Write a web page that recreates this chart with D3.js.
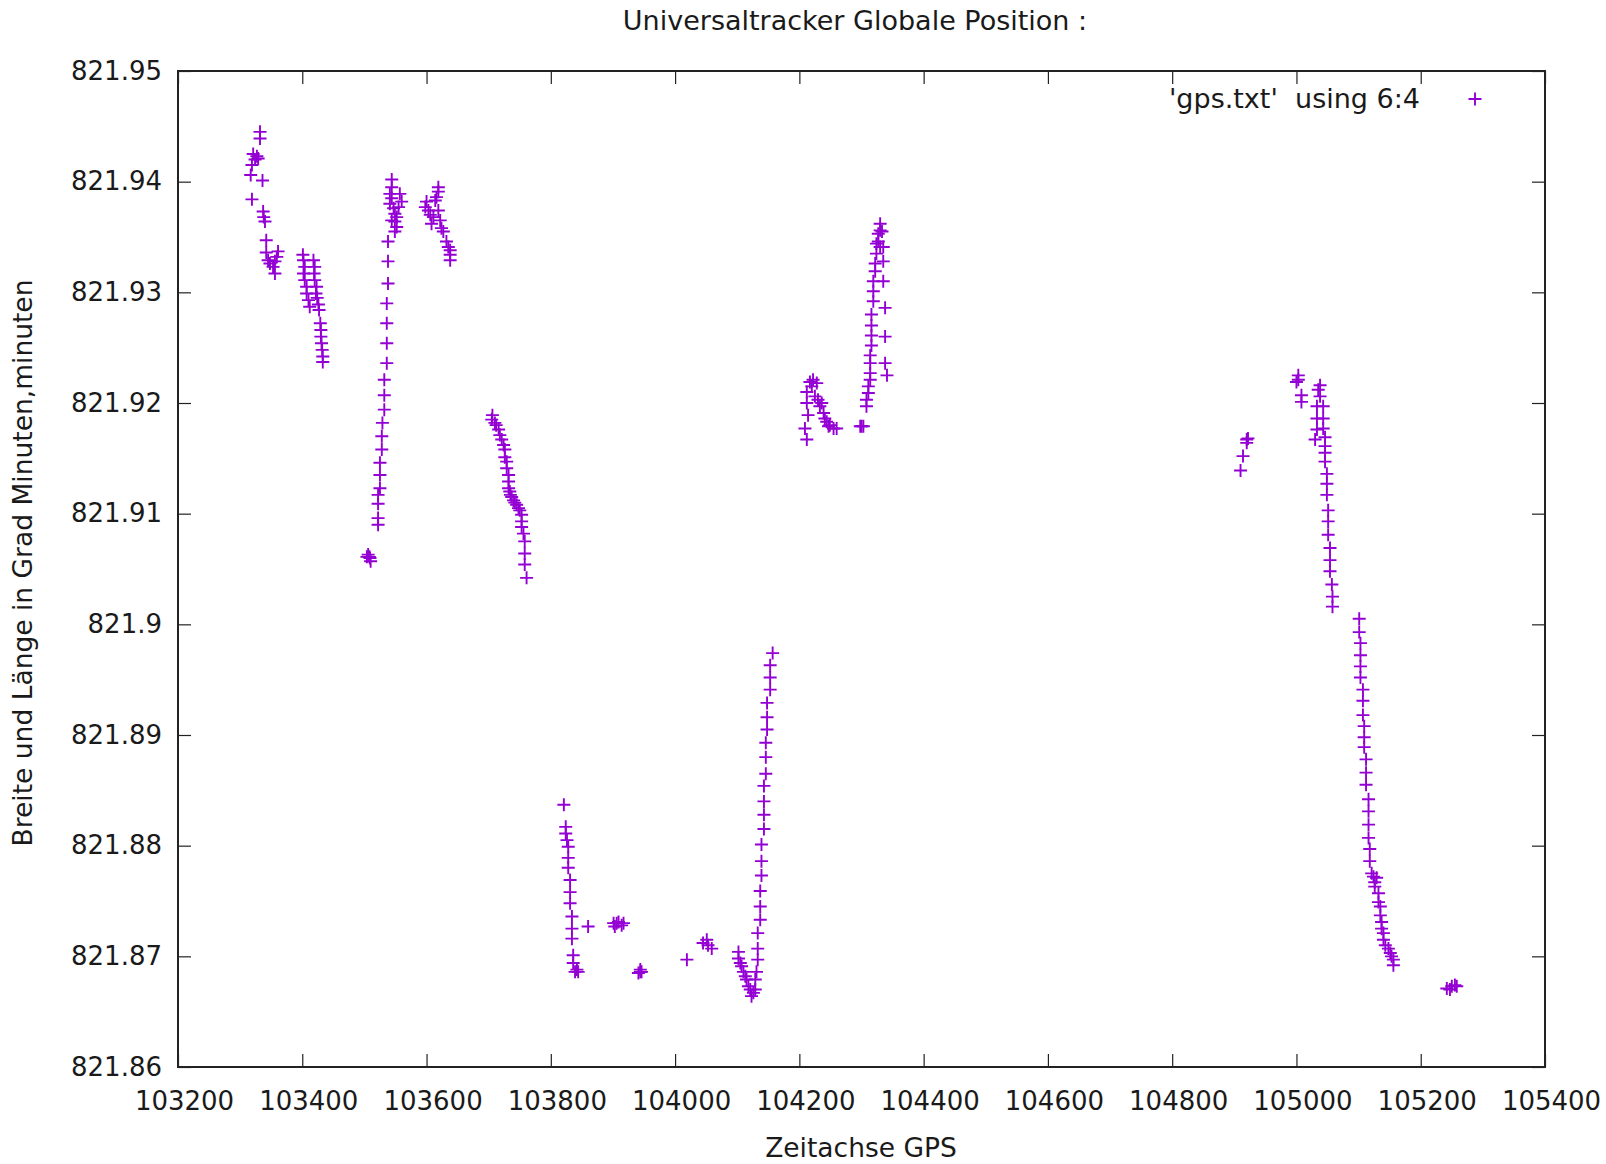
<!DOCTYPE html>
<html>
<head>
<meta charset="utf-8">
<script src="https://cdn.jsdelivr.net/npm/d3@7"></script>
<style>
  html, body { margin: 0; padding: 0; background: #fff; }
  svg { display: block; }
  text { font-family: "DejaVu Sans", Verdana, sans-serif; fill: #1a1a1a; }
</style>
</head>
<body>
<svg id="chart" width="1606" height="1164"></svg>
<script>
// ---- data ('gps.txt' using 6:4) ----
const gpsTime = [
  103332,103332,103321,103327,103324,103329,103319,103317,103336,103319,103337,103338,103340,103342,103342,103345,103348,103353,103356,103361,103359,103356,
  103401,103402,103404,103402,103404,103407,103407,103410,103412,103418,103420,103419,103420,103423,103422,103424,103426,103427,103429,103430,103430,103431,103432,103433,103433,
  103508,103506,103509,103504,103510,
  103522,103522,103522,103522,103525,103525,103525,103528,103528,103529,103532,103532,103532,103536,103536,103536,103536,103538,103538,103538,
  103544,103544,103541,103544,103541,103547,103549,103544,103549,103552,103549,103557,103560,103555,103552,
  103619,103619,103616,103614,103600,103598,103603,103606,103611,103619,103622,103608,103624,103627,103632,103635,103638,103638,103638,
  103706,103705,103710,103716,103718,103721,103724,103726,103726,103729,103729,103732,103732,103732,103734,103737,103740,103745,103750,103753,103753,103753,103756,103758,103758,103758,103761,103712,103735,103742,103748,
  103821,103824,103824,103826,103828,103828,103828,103831,103831,103831,103834,103834,103834,103836,103836,103842,103839,103844,103860,
  103906,103901,103909,103914,103903,103917,103944,103941,103944,103946,104019,104045,104051,104053,104059,
  104102,104102,104105,104107,104110,104113,104115,104118,104121,104126,104123,104129,
  104157,104153,104153,104153,104148,104148,104148,104146,104146,104146,104143,104143,104143,104143,104139,104139,104139,104137,104137,104137,104133,104133,104133,104131,104129,
  104212,104209,104214,104212,104212,104217,104222,104220,104228,104225,104230,104236,104233,104239,104241,104244,104249,104255,104260,104247,104300,104298,104303,
  104308,104308,104311,104311,104314,104314,104314,104314,104316,104316,104316,104316,104319,104319,104319,104322,104322,104324,104324,104327,104330,104330,104335,104335,104338,104338,104338,104341,104333,104327,104330,104335,
  104920,104920,104914,104910,104922,
  105003,105003,105000,105008,105008,
  105038,105035,105038,105033,105043,105033,105043,105033,105043,105030,105046,105046,105046,105046,105049,105049,105049,105051,105051,105051,105054,105054,105054,105057,105058,105058,
  105101,105101,105103,105103,105103,105103,105107,105107,105107,105109,105109,105109,105112,105112,105112,105116,105116,105116,105116,105118,105118,105121,105124,105129,105126,105126,105132,105132,105135,105135,105137,105137,105140,105140,105143,105148,105151,105153,105156,105156,
  105242,105250,105255,105247,105258
];
const gpsPos = [
  821.9445,821.9439,821.9425,821.9423,821.9420,821.9421,821.9415,821.9406,821.9401,821.9384,821.9373,821.9368,821.9364,821.9347,821.9336,821.9329,821.9326,821.9323,821.9317,821.9337,821.9332,821.9328,
  821.9334,821.9329,821.9323,821.9317,821.9311,821.9305,821.9299,821.9293,821.9287,821.9329,821.9323,821.9317,821.9311,821.9305,821.9299,821.9295,821.9289,821.9284,821.9272,821.9266,821.9260,821.9254,821.9248,821.9242,821.9237,
  821.9061,821.9063,821.9060,821.9061,821.9057,
  821.9090,821.9096,821.9109,821.9117,821.9123,821.9135,821.9146,821.9158,821.9170,821.9182,821.9194,821.9207,821.9221,821.9236,821.9254,821.9272,821.9290,821.9308,821.9328,821.9346,
  821.9402,821.9395,821.9389,821.9385,821.9380,821.9376,821.9371,821.9365,821.9364,821.9359,821.9355,821.9389,821.9382,821.9377,821.9368,
  821.9395,821.9391,821.9386,821.9383,821.9382,821.9377,821.9374,821.9370,821.9368,821.9374,821.9365,821.9362,821.9358,821.9355,821.9346,821.9341,821.9338,821.9334,821.9329,
  821.9189,821.9185,821.9182,821.9176,821.9171,821.9167,821.9162,821.9158,821.9151,821.9147,821.9141,821.9135,821.9129,821.9123,821.9120,821.9115,821.9112,821.9108,821.9103,821.9099,821.9093,821.9088,821.9082,821.9075,821.9064,821.9054,821.9042,821.9180,821.9117,821.9110,821.9105,
  821.8837,821.8817,821.8811,821.8805,821.8799,821.8789,821.8780,821.8769,821.8758,821.8748,821.8736,821.8725,821.8716,821.8701,821.8694,821.8688,821.8686,821.8686,821.8727,
  821.8730,821.8730,821.8731,821.8728,821.8727,821.8730,821.8686,821.8685,821.8688,821.8686,821.8697,821.8712,821.8715,821.8710,821.8707,
  821.8704,821.8698,821.8694,821.8691,821.8686,821.8682,821.8679,821.8673,821.8670,821.8667,821.8664,821.8670,
  821.8974,821.8963,821.8952,821.8941,821.8929,821.8916,821.8905,821.8893,821.8880,821.8865,821.8854,821.8840,821.8828,821.8815,821.8801,821.8786,821.8773,821.8759,821.8745,821.8733,821.8721,821.8707,821.8697,821.8686,821.8679,
  821.9167,821.9177,821.9189,821.9200,821.9210,821.9219,821.9221,821.9215,821.9218,821.9206,821.9203,821.9200,821.9197,821.9191,821.9186,821.9183,821.9180,821.9177,821.9177,821.9179,821.9179,821.9179,821.9179,
  821.9197,821.9203,821.9209,821.9215,821.9221,821.9227,821.9236,821.9243,821.9252,821.9261,821.9270,821.9280,821.9292,821.9301,821.9310,821.9319,821.9326,821.9335,821.9344,821.9353,821.9356,821.9362,821.9328,821.9310,821.9286,821.9260,821.9236,821.9225,821.9355,821.9346,821.9341,821.9341,
  821.9167,821.9164,821.9152,821.9139,821.9168,
  821.9225,821.9221,821.9219,821.9207,821.9201,
  821.9216,821.9212,821.9206,821.9197,821.9197,821.9186,821.9186,821.9176,821.9177,821.9167,821.9169,821.9161,821.9155,821.9147,821.9136,821.9127,821.9117,821.9103,821.9093,821.9081,821.9069,821.9058,821.9048,821.9036,821.9025,821.9016,
  821.9005,821.8993,821.8983,821.8972,821.8962,821.8952,821.8941,821.8931,821.8918,821.8908,821.8898,821.8889,821.8878,821.8866,821.8855,821.8842,821.8831,821.8819,821.8807,821.8797,821.8786,821.8775,821.8772,821.8771,821.8767,821.8763,821.8757,821.8749,821.8745,821.8737,821.8731,821.8725,821.8721,821.8715,821.8710,821.8707,821.8703,821.8700,821.8697,821.8692,
  821.8671,821.8673,821.8674,821.8670,821.8673
];
const xTickValues = [103200,103400,103600,103800,104000,104200,104400,104600,104800,105000,105200,105400];
const xTickLabels = ["103200","103400","103600","103800","104000","104200","104400","104600","104800","105000","105200","105400"];
const yTickValues = [821.86,821.87,821.88,821.89,821.9,821.91,821.92,821.93,821.94,821.95];
const yTickLabels = ["821.86","821.87","821.88","821.89","821.9","821.91","821.92","821.93","821.94","821.95"];
const titleText = "Universaltracker Globale Position :";
const xLabelText = "Zeitachse GPS";
const yLabelText = "Breite und Länge in Grad Minuten,minuten";
const legendText = "'gps.txt'  using 6:4";

// ---- layout ----
const L = 178, R = 1545, T = 71, B = 1067;
const FONT = 26;
const markColor = "#9400D3";

const svg = d3.select("#chart");
const x = d3.scaleLinear().domain([103200, 105400]).range([L, R]);
const y = d3.scaleLinear().domain([821.86, 821.95]).range([B, T]);

const xFmt = (d) => xTickLabels[xTickValues.indexOf(d)];
const yFmt = (d) => yTickLabels[yTickValues.findIndex(v => Math.abs(v - d) < 1e-9)];

function styleAxis(g, showText) {
  g.select(".domain").remove();
  g.selectAll(".tick line").attr("stroke", "#222").attr("stroke-width", 1.2);
  if (showText) {
    g.selectAll(".tick text").attr("fill", "#1a1a1a").style("font-size", FONT + "px")
      .style("font-family", "'DejaVu Sans', Verdana, sans-serif");
  } else {
    g.selectAll(".tick text").remove();
  }
}

svg.append("g").attr("transform", `translate(0,${B})`)
  .call(d3.axisBottom(x).tickValues(xTickValues).tickFormat(xFmt).tickSize(-13).tickPadding(25))
  .call(g => styleAxis(g, true))
  .call(g => g.selectAll(".tick text").attr("x", 6));
svg.append("g").attr("transform", `translate(0,${T})`)
  .call(d3.axisTop(x).tickValues(xTickValues).tickSize(-13))
  .call(g => styleAxis(g, false));
svg.append("g").attr("transform", `translate(${L},0)`)
  .call(d3.axisLeft(y).tickValues(yTickValues).tickFormat(yFmt).tickSize(-13).tickPadding(16))
  .call(g => styleAxis(g, true));
svg.append("g").attr("transform", `translate(${R},0)`)
  .call(d3.axisRight(y).tickValues(yTickValues).tickSize(-13))
  .call(g => styleAxis(g, false));

// border
svg.append("rect").attr("x", L).attr("y", T).attr("width", R - L).attr("height", B - T)
  .attr("fill", "none").attr("stroke", "#222").attr("stroke-width", 2);

// points
const pts = gpsTime.map((t, i) => ({ t, p: gpsPos[i] }));
const plus = "M-6.5,0H6.5M0,-6.5V6.5";
svg.append("g").selectAll("path").data(pts).join("path")
  .attr("transform", d => `translate(${x(d.t)},${y(d.p)})`)
  .attr("d", plus)
  .attr("fill", "none").attr("stroke", markColor).attr("stroke-width", 1.9);

// title
svg.append("text").attr("x", 855).attr("y", 30).attr("text-anchor", "middle")
  .style("font-size", "27px").text(titleText);
// x label
svg.append("text").attr("x", 861).attr("y", 1157).attr("text-anchor", "middle")
  .style("font-size", "26.5px").text(xLabelText);
// y label
svg.append("text").attr("transform", "translate(32,563) rotate(-90)").attr("text-anchor", "middle")
  .style("font-size", "26.5px").text(yLabelText);

// legend
svg.append("text").attr("x", 1420).attr("y", 108).attr("text-anchor", "end")
  .style("font-size", "27px").style("white-space", "pre").attr("xml:space", "preserve").text(legendText);
svg.append("path").attr("transform", "translate(1475,99)").attr("d", plus)
  .attr("fill", "none").attr("stroke", markColor).attr("stroke-width", 1.9);
</script>
</body>
</html>
